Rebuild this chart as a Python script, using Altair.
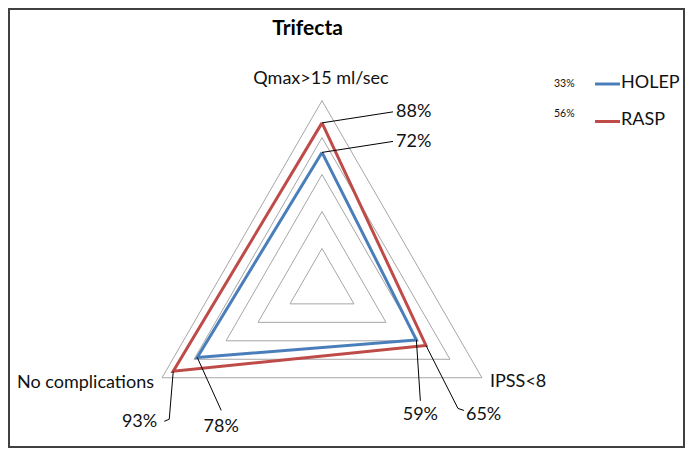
import math
import pandas as pd
import altair as alt

# ---------------- data ----------------
title_text = "Trifecta"
categories = ["Qmax>15 ml/sec", "IPSS<8", "No complications"]
series = ["HOLEP", "RASP"]
holep = [72, 59, 78]
rasp = [88, 65, 93]
grid_levels = [20, 40, 60, 80, 100]
legend_notes = ["33%", "56%"]
colors = ["#4A7EBB", "#BE4B48"]

# ---------------- layout ----------------
W, H = 677, 440
M = 8
CX, CY = 322.0, 285.4       # radar centre (page px)
PX = 1.847                  # px per percentage point
angles = [90, -30, 210]     # axis directions (deg)
FONT = "Lato"


def ux(px):
    return (px - CX) / PX


def uy(py):
    return (CY - py) / PX


xs = alt.Scale(domain=[ux(M), ux(M + W)], nice=False, zero=False)
ys = alt.Scale(domain=[uy(M + H), uy(M)], nice=False, zero=False)


def polar(v, k):
    a = math.radians(angles[k])
    return v * math.cos(a), v * math.sin(a)


def X(f="x"):
    return alt.X(f"{f}:Q", scale=xs, axis=None)


def Y(f="y"):
    return alt.Y(f"{f}:Q", scale=ys, axis=None)


# grid triangles
grid_rows = []
for lv in grid_levels:
    for i in range(4):
        x, y = polar(lv, i % 3)
        grid_rows.append({"level": lv, "order": i, "x": x, "y": y})
grid = alt.Chart(pd.DataFrame(grid_rows)).mark_line(
    color="#A6A6A6", strokeWidth=1, strokeJoin="miter"
).encode(x=X(), y=Y(), detail="level:N", order="order:Q")

# series polygons
ser_rows = []
for name, vals in [("RASP", rasp), ("HOLEP", holep)]:
    for i in range(4):
        x, y = polar(vals[i % 3], i % 3)
        ser_rows.append({"series": name, "order": i, "x": x, "y": y})
lines = alt.Chart(pd.DataFrame(ser_rows)).mark_line(
    strokeWidth=3, strokeJoin="miter"
).encode(
    x=X(), y=Y(), detail="series:N", order="order:Q",
    color=alt.Color("series:N", scale=alt.Scale(domain=series, range=colors), legend=None),
)

# leader lines & value labels  (offsets are page-pixel layout)
# (series, axis index, [bend offsets from point in px], text offset, align)
leader_layout = [
    ("RASP", 0, [(71, -11)], (74, -11), "left"),
    ("HOLEP", 0, [(71, -11)], (74, -10), "left"),
    ("HOLEP", 1, [(4, 61)], (4, 75), "center"),
    ("RASP", 1, [(32, 63), (38, 65)], (40, 70), "left"),
    ("RASP", 2, [(-4, 48), (-9, 50)], (-16, 50.5), "right"),
    ("HOLEP", 2, [(24, 53)], (24, 70), "center"),
]
lead_rows, lab_rows = [], []
for j, (sname, k, bends, toff, al) in enumerate(leader_layout):
    v = (holep if sname == "HOLEP" else rasp)[k]
    x, y = polar(v, k)
    lead_rows.append({"id": j, "order": 0, "x": x, "y": y})
    for b, (dx, dy) in enumerate(bends):
        lead_rows.append({"id": j, "order": b + 1, "x": x + dx / PX, "y": y - dy / PX})
    lab_rows.append({"id": j, "align": al, "label": f"{v}%",
                     "x": x + toff[0] / PX, "y": y - toff[1] / PX})
leaders = alt.Chart(pd.DataFrame(lead_rows)).mark_line(
    color="#000000", strokeWidth=1
).encode(x=X(), y=Y(), detail="id:N", order="order:Q")

lab_df = pd.DataFrame(lab_rows)
val_layers = []
for al in ["left", "center", "right"]:
    sub = lab_df[lab_df["align"] == al]
    val_layers.append(
        alt.Chart(sub).mark_text(align=al, baseline="middle", font=FONT, fontSize=18, color="#111111")
        .encode(x=X(), y=Y(), text="label:N")
    )

# axis category labels
cat_pos = [(321, 79, "center"), (490, 382, "left"), (154, 383, "right")]
cat_layers = []
for name, (px, py, al) in zip(categories, cat_pos):
    cat_layers.append(
        alt.Chart(pd.DataFrame([{"t": name, "x": ux(px), "y": uy(py)}]))
        .mark_text(align=al, baseline="middle", font=FONT, fontSize=18, color="#111111")
        .encode(x=X(), y=Y(), text="t:N")
    )

# title
title_layer = alt.Chart(pd.DataFrame([{"t": title_text, "x": ux(307.5), "y": uy(29)}])).mark_text(
    align="center", baseline="middle", font=FONT, fontSize=21, fontWeight="bold", color="#000000"
).encode(x=X(), y=Y(), text="t:N")

# custom legend
leg_y_line = [84, 121.5]
leg_y_text = [83, 120]
leg_y_note = [83.5, 114]
leg_line_rows, leg_text_rows, leg_note_rows = [], [], []
for i, name in enumerate(series):
    leg_line_rows.append({"series": name, "x": ux(595), "x2": ux(620), "y": uy(leg_y_line[i])})
    leg_text_rows.append({"t": name, "x": ux(621), "y": uy(leg_y_text[i])})
    leg_note_rows.append({"t": legend_notes[i], "x": ux(554), "y": uy(leg_y_note[i])})
leg_lines = alt.Chart(pd.DataFrame(leg_line_rows)).mark_rule(strokeWidth=3).encode(
    x=X(), x2="x2:Q", y=Y(),
    color=alt.Color("series:N", scale=alt.Scale(domain=series, range=colors), legend=None),
)
leg_text = alt.Chart(pd.DataFrame(leg_text_rows)).mark_text(
    align="left", baseline="middle", font=FONT, fontSize=18, color="#111111"
).encode(x=X(), y=Y(), text="t:N")
leg_note = alt.Chart(pd.DataFrame(leg_note_rows)).mark_text(
    align="left", baseline="middle", font=FONT, fontSize=10.5, color="#111111"
).encode(x=X(), y=Y(), text="t:N")

chart = alt.layer(
    grid, lines, leaders, *val_layers, *cat_layers, title_layer, leg_lines, leg_text, leg_note
).properties(
    width=W, height=H, padding=0, autosize=alt.AutoSizeParams(type="none"),
    background="#FFFFFF",
).configure_view(stroke="#404040", strokeWidth=4)

chart.save("out.html", embed_options={"renderer": "svg", "actions": False})
